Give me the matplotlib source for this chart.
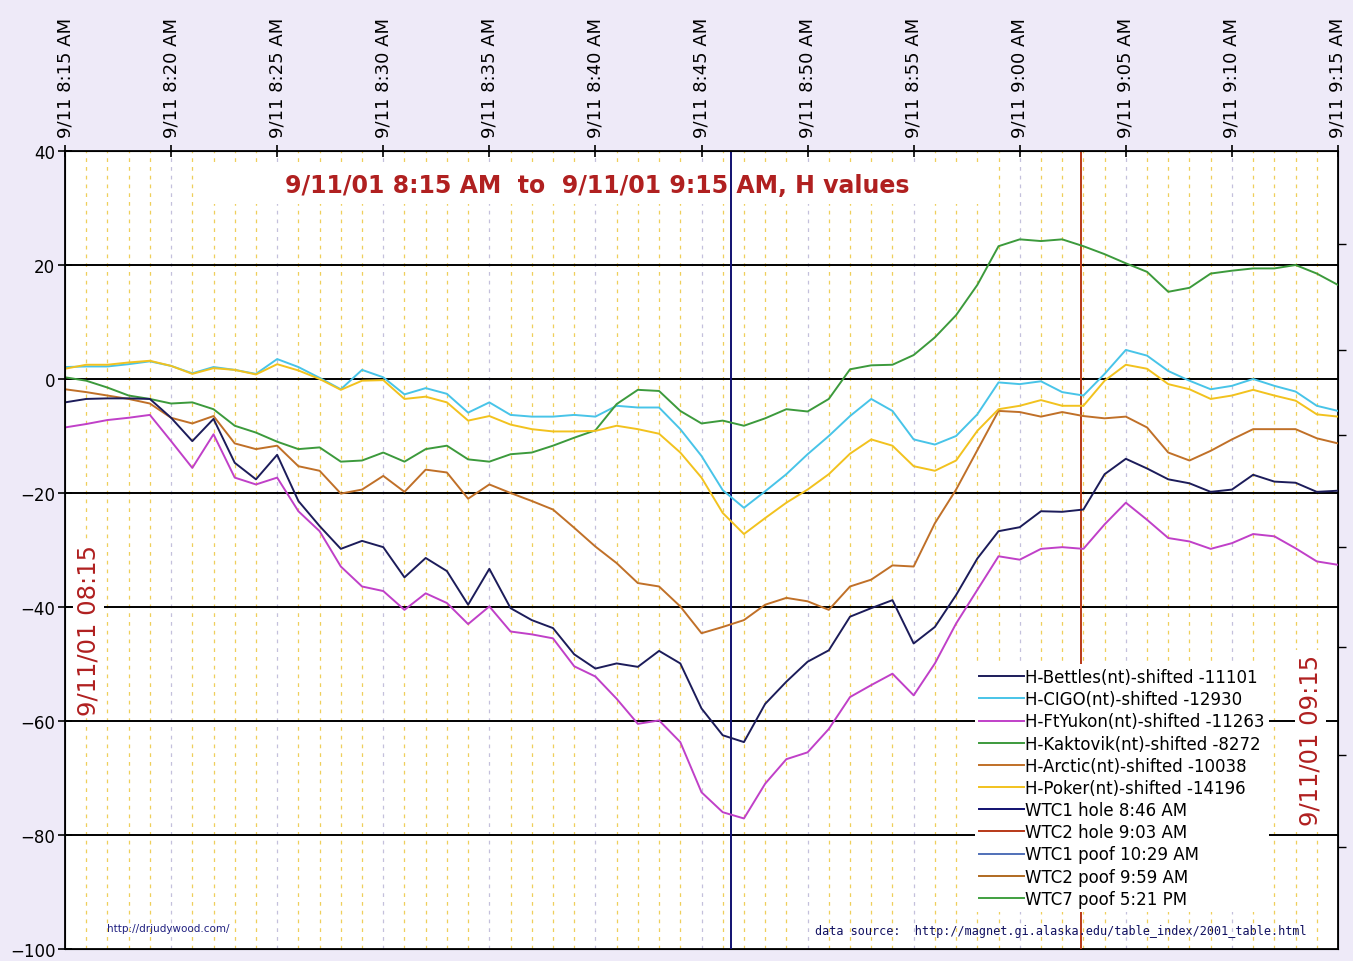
import matplotlib
matplotlib.use("Agg")
import matplotlib.pyplot as plt
from matplotlib.patches import Rectangle
import numpy as np

# minutes after 8:15 AM, one sample per minute
minutes = list(range(61))

bettles = [-4.1, -3.5, -3.4, -3.4, -3.5, -6.8, -10.9, -7.0, -14.7, -17.6,
           -13.3, -21.4, -25.8, -29.8, -28.4, -29.5, -34.8, -31.4, -33.7, -39.6,
           -33.3, -40.2, -42.3, -43.7, -48.3, -50.8, -49.9, -50.5, -47.7, -49.9,
           -57.8, -62.5, -63.7, -57.0, -53.1, -49.6, -47.6, -41.7, -40.2, -38.8,
           -46.4, -43.5, -37.9, -31.5, -26.7, -26.0, -23.2, -23.3, -22.9, -16.7,
           -14.0, -15.7, -17.6, -18.3, -19.8, -19.4, -16.8, -18.0, -18.2, -19.8,
           -19.6]
cigo = [2.1, 2.2, 2.2, 2.6, 3.1, 2.3, 1.0, 2.1, 1.6, 0.9,
        3.5, 2.1, 0.2, -1.8, 1.6, 0.3, -2.7, -1.6, -2.6, -5.9,
        -4.1, -6.3, -6.6, -6.6, -6.3, -6.6, -4.7, -5.0, -5.0, -8.8,
        -13.5, -19.5, -22.6, -19.7, -16.7, -13.2, -10.0, -6.5, -3.5, -5.6,
        -10.6, -11.5, -10.0, -6.2, -0.6, -0.9, -0.4, -2.3, -2.9, 0.9,
        5.1, 4.1, 1.4, -0.3, -1.8, -1.2, 0.0, -1.2, -2.2, -4.7,
        -5.6]
ftyukon = [-8.5, -7.9, -7.2, -6.8, -6.3, -10.9, -15.6, -9.7, -17.3, -18.5,
           -17.3, -23.2, -26.7, -32.9, -36.4, -37.2, -40.5, -37.6, -39.3, -43.0,
           -39.9, -44.3, -44.8, -45.5, -50.4, -52.2, -56.1, -60.5, -59.9, -63.7,
           -72.5, -76.0, -77.1, -71.0, -66.7, -65.5, -61.4, -55.8, -53.7, -51.7,
           -55.5, -49.9, -42.9, -37.0, -31.1, -31.7, -29.8, -29.5, -29.8, -25.5,
           -21.7, -24.7, -27.9, -28.5, -29.8, -28.8, -27.2, -27.6, -29.7, -32.0,
           -32.6]
kaktovik = [0.3, -0.3, -1.5, -2.9, -3.5, -4.3, -4.1, -5.3, -8.2, -9.4,
            -11.0, -12.3, -12.0, -14.5, -14.3, -12.9, -14.5, -12.3, -11.7, -14.1,
            -14.5, -13.2, -12.9, -11.7, -10.3, -9.0, -4.4, -1.9, -2.1, -5.6,
            -7.8, -7.3, -8.2, -6.9, -5.3, -5.7, -3.5, 1.7, 2.4, 2.5,
            4.2, 7.3, 11.2, 16.5, 23.3, 24.5, 24.2, 24.5, 23.3, 21.9,
            20.3, 18.8, 15.3, 16.0, 18.5, 19.0, 19.4, 19.4, 20.0, 18.5,
            16.5]
arctic = [-1.8, -2.3, -2.9, -3.5, -4.3, -6.8, -7.8, -6.5, -11.3, -12.3,
          -11.7, -15.3, -16.1, -20.1, -19.4, -17.0, -19.8, -15.9, -16.4, -21.0,
          -18.5, -20.0, -21.4, -22.9, -26.1, -29.4, -32.3, -35.8, -36.4, -39.9,
          -44.6, -43.5, -42.3, -39.6, -38.4, -39.0, -40.5, -36.4, -35.2, -32.7,
          -32.9, -25.3, -19.4, -12.5, -5.6, -5.8, -6.6, -5.8, -6.5, -6.9,
          -6.6, -8.5, -12.9, -14.3, -12.6, -10.6, -8.8, -8.8, -8.8, -10.4,
          -11.3]
poker = [1.8, 2.5, 2.5, 2.9, 3.2, 2.3, 0.9, 1.9, 1.6, 0.8,
         2.6, 1.5, 0.0, -1.9, -0.3, -0.2, -3.5, -3.1, -4.1, -7.3,
         -6.5, -8.0, -8.8, -9.2, -9.2, -9.1, -8.2, -8.8, -9.6, -12.9,
         -17.3, -23.5, -27.2, -24.4, -21.7, -19.4, -16.7, -13.1, -10.6, -11.7,
         -15.3, -16.1, -14.3, -9.1, -5.3, -4.7, -3.7, -4.7, -4.7, -0.3,
         2.5, 1.8, -0.9, -1.8, -3.5, -2.9, -1.9, -2.9, -3.8, -6.2,
         -6.6]

series_names = ["H-Bettles(nt)-shifted -11101", "H-CIGO(nt)-shifted -12930",
                "H-FtYukon(nt)-shifted -11263", "H-Kaktovik(nt)-shifted -8272",
                "H-Arctic(nt)-shifted -10038", "H-Poker(nt)-shifted -14196"]
series_colors = ["#1c1c5a", "#48c4e8", "#c040c8", "#3c9a3c", "#c07028", "#f2c21e"]

# event markers, minutes after 8:15 AM
event_names = ["WTC1 hole 8:46 AM", "WTC2 hole 9:03 AM", "WTC1 poof 10:29 AM",
               "WTC2 poof 9:59 AM", "WTC7 poof 5:21 PM"]
event_minutes = [31.4, 47.9, 134, 104, 546]
event_colors = ["#101070", "#b83818", "#5070b8", "#b06a20", "#40a040"]

tick_minutes = list(range(0, 61, 5))
tick_labels = ["9/11 8:15 AM", "9/11 8:20 AM", "9/11 8:25 AM", "9/11 8:30 AM",
               "9/11 8:35 AM", "9/11 8:40 AM", "9/11 8:45 AM", "9/11 8:50 AM",
               "9/11 8:55 AM", "9/11 9:00 AM", "9/11 9:05 AM", "9/11 9:10 AM",
               "9/11 9:15 AM"]
right_ticks = [23.7, 5.1, -9.8, -29.5, -47.1, -66.0, -82.1]

fig = plt.figure(figsize=(13.53, 9.62), dpi=100, facecolor="#eeeaf8")
ax = fig.add_axes([65 / 1353, 12 / 962, 1273 / 1353, 798 / 962])
ax.set_facecolor("white")

# minute grid: pale yellow dashes, greyish every 5 min
for m in range(1, 60):
    c = "#c4c0dc" if m % 5 == 0 else "#efcf5a"
    ax.axvline(m, color=c, lw=0.9, ls=(0, (3, 4)), zorder=1)

for yv in range(-80, 40, 20):
    ax.axhline(yv, color="black", lw=1.4, zorder=2)

lines = []
for vals, name, col in zip([bettles, cigo, ftyukon, kaktovik, arctic, poker],
                           series_names, series_colors):
    l, = ax.plot(minutes, vals, color=col, lw=1.4, label=name, zorder=4)
    lines.append(l)
lines[0].set_zorder(5)

# white box behind the title
ax.add_patch(Rectangle((6.8, 30.7), 36.3, 7.0, facecolor="white",
                       edgecolor="none", zorder=2.5))

for em, name, col in zip(event_minutes, event_names, event_colors):
    ax.axvline(em, color=col, lw=1.4, label=name, zorder=3)

ax.set_xlim(0, 60)
ax.set_ylim(-100, 40)

ax.xaxis.tick_top()
ax.set_xticks(tick_minutes)
ax.set_xticklabels(tick_labels, rotation=90, fontsize=13)
ax.set_yticks(range(-100, 41, 20))
ax.tick_params(axis="x", direction="inout", length=8, width=1.2, pad=6)
ax.tick_params(axis="y", direction="inout", length=10, width=1.2, labelsize=12, pad=2)
for s in ax.spines.values():
    s.set_linewidth(1.3)

ax2 = ax.twinx()
ax2.set_ylim(-100, 40)
ax2.set_yticks(right_ticks)
ax2.set_yticklabels([])
ax2.tick_params(axis="y", direction="out", length=6, width=1.0)

ax.text(25.1, 34.0, "9/11/01 8:15 AM  to  9/11/01 9:15 AM, H values",
        ha="center", va="center", fontsize=17, fontweight="bold", color="#b02020",
        zorder=6)

ax.text(1.1, -43.9, "9/11/01 08:15", rotation=90, ha="center", va="center",
        fontsize=17.5, color="#b02020", zorder=6,
        bbox=dict(boxstyle="square,pad=0.15", fc="white", ec="none"))
ax.text(58.7, -63.2, "9/11/01 09:15", rotation=90, ha="center", va="center",
        fontsize=17.5, color="#b02020", zorder=6,
        bbox=dict(boxstyle="square,pad=0.15", fc="white", ec="none"))

ax.text(2.0, -96.3, "http://drjudywood.com/", fontsize=7.5, color="#202080",
        ha="left", va="center", zorder=6)
ax.text(58.5, -96.8,
        "data source:  http://magnet.gi.alaska.edu/table_index/2001_table.html",
        fontsize=8.5, family="DejaVu Sans Mono", color="#101060",
        ha="right", va="center", zorder=6)

handles, labels = ax.get_legend_handles_labels()
leg = ax2.legend(handles, labels, loc="lower right", bbox_to_anchor=(0.952, 0.036),
                 fontsize=12, frameon=True, fancybox=False, edgecolor="none",
                 facecolor="white", framealpha=1, handlelength=2.7,
                 handletextpad=0.05, labelspacing=0.25, borderpad=0.25)
leg.set_zorder(7)

fig.savefig("out.png", dpi=100, facecolor=fig.get_facecolor())
